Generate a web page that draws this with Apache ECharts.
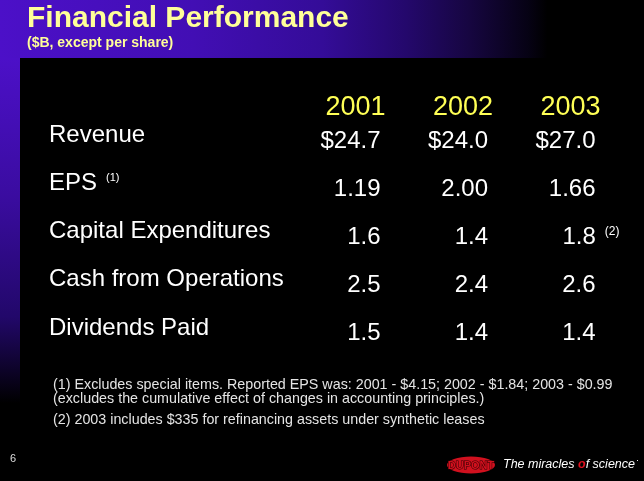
<!DOCTYPE html>
<html><head><meta charset="utf-8">
<script src="https://cdn.jsdelivr.net/npm/echarts@6/dist/echarts.min.js"></script>
<style>html,body{margin:0;padding:0;background:#000}#c{width:644px;height:481px}</style>
</head><body><div id="c"></div>
<script>
// ---- data ----
const years = ['2001', '2002', '2003'];
const rowLabels = ['Revenue', 'EPS', 'Capital Expenditures', 'Cash from Operations', 'Dividends Paid'];
const rowLabelNotes = ['', '(1)', '', '', ''];
const revenue = [24.7, 24.0, 27.0];
const eps = [1.19, 2.00, 1.66];
const capex = [1.6, 1.4, 1.8];
const capexNotes = ['', '', '(2)'];
const cashOps = [2.5, 2.4, 2.6];
const dividends = [1.5, 1.4, 1.4];
const titleText = 'Financial Performance';
const subtitleText = '($B, except per share)';
const footnoteLines = [
  '(1) Excludes special items. Reported EPS was: 2001 - $4.15; 2002 - $1.84; 2003 - $0.99',
  '(excludes the cumulative effect of changes in accounting principles.)',
  '(2) 2003 includes $335 for refinancing assets under synthetic leases'
];
const pageNumber = '6';

// ---- build ----
const FONT = 'Liberation Sans, Arial, Helvetica, sans-serif';
const rows = [
  { values: revenue, prefix: '$', dec: 1, notes: ['', '', ''] },
  { values: eps, prefix: '', dec: 2, notes: ['', '', ''] },
  { values: capex, prefix: '', dec: 1, notes: capexNotes },
  { values: cashOps, prefix: '', dec: 1, notes: ['', '', ''] },
  { values: dividends, prefix: '', dec: 1, notes: ['', '', ''] }
];
const cells = [];
rows.forEach((r, ri) => {
  r.values.forEach((v, ci) => {
    const main = r.prefix + v.toFixed(r.dec);
    const note = r.notes[ci];
    const item = { value: [ci, ri], txt: note ? '{v|' + main + '}{s|' + note + '}' : '{v|' + main + '}' };
    if (note) item.label = { offset: [24, 0] };
    cells.push(item);
  });
});

const chart = echarts.init(document.getElementById('c'), null, { renderer: 'canvas' });
chart.setOption({
  backgroundColor: '#000000',
  animation: false,
  grid: { left: 326.75, width: 322.5, top: 117.3, height: 240.5, outerBoundsMode: 'none', containLabel: false },
  xAxis: {
    type: 'category', data: years, position: 'top',
    axisLine: { show: false }, axisTick: { show: false }, splitLine: { show: false },
    axisLabel: {
      interval: 0, color: '#ffff55', fontSize: 27, fontFamily: FONT,
      align: 'center', verticalAlign: 'middle', margin: 10, padding: [0, 50, 0, 0]
    }
  },
  yAxis: {
    type: 'category', data: rowLabels, inverse: true,
    axisLine: { show: false }, axisTick: { show: false }, splitLine: { show: false },
    axisLabel: {
      interval: 0, align: 'left', margin: 277.75, color: '#ffffff', fontSize: 24, fontFamily: FONT,
      verticalAlign: 'middle', padding: [0, 0, 11.6, 0],
      formatter: (v, i) => rowLabelNotes[i] ? '{m|' + v + '}{s|' + rowLabelNotes[i] + '}' : '{m|' + v + '}',
      rich: {
        m: { fontSize: 24, color: '#ffffff', fontFamily: FONT },
        s: { fontSize: 11, color: '#ffffff', fontFamily: FONT, verticalAlign: 'top', padding: [1, 0, 0, 9] }
      }
    }
  },
  series: [{
    type: 'scatter', data: cells, symbolSize: 0,
    itemStyle: { color: '#000000', opacity: 1 },
    silent: true,
    emphasis: { disabled: true },
    label: {
      show: true, position: 'inside', align: 'right', verticalAlign: 'middle', opacity: 1,
      fontSize: 24, color: '#ffffff', fontFamily: FONT, textBorderWidth: 0,
      formatter: p => p.data.txt,
      rich: {
        v: { fontSize: 24, color: '#ffffff', fontFamily: FONT, textBorderWidth: 0 },
        s: { fontSize: 12, color: '#ffffff', fontFamily: FONT, verticalAlign: 'top', padding: [0, 0, 0, 9], textBorderWidth: 0 }
      }
    }
  }],
  graphic: [
    { type: 'rect', z: -10, silent: true, shape: { x: 0, y: 0, width: 644, height: 58 },
      style: { fill: new echarts.graphic.LinearGradient(0, 0, 1, 0, [
        { offset: 0, color: '#4c10c8' }, { offset: 0.3, color: '#420eb4' },
        { offset: 0.5, color: '#340c98' }, { offset: 0.63, color: '#24086c' },
        { offset: 0.73, color: '#160640' }, { offset: 0.82, color: '#060214' },
        { offset: 0.85, color: '#000000' }, { offset: 1, color: '#000000' }]) } },
    { type: 'rect', z: -10, silent: true, shape: { x: 0, y: 58, width: 20, height: 345 },
      style: { fill: new echarts.graphic.LinearGradient(0, 0, 0, 1, [
        { offset: 0, color: '#4c10c8' }, { offset: 0.4, color: '#3a0ca0' },
        { offset: 0.75, color: '#22086a' }, { offset: 1, color: '#000000' }]) } },
    { type: 'text', x: 27, y: 18.3, silent: true,
      style: { text: titleText, fill: '#ffff99', font: 'bold 30px ' + FONT, align: 'left', verticalAlign: 'middle' } },
    { type: 'text', x: 27, y: 43, silent: true,
      style: { text: subtitleText, fill: '#ffff99', font: 'bold 14px ' + FONT, align: 'left', verticalAlign: 'middle' } },
    { type: 'text', x: 53, y: 385, silent: true,
      style: { text: footnoteLines[0], fill: '#e4e4e4', font: '14.3px ' + FONT, align: 'left', verticalAlign: 'middle' } },
    { type: 'text', x: 53, y: 399.3, silent: true,
      style: { text: footnoteLines[1], fill: '#e4e4e4', font: '14.3px ' + FONT, align: 'left', verticalAlign: 'middle' } },
    { type: 'text', x: 53, y: 420.5, silent: true,
      style: { text: footnoteLines[2], fill: '#e4e4e4', font: '14.3px ' + FONT, align: 'left', verticalAlign: 'middle' } },
    { type: 'text', x: 10, y: 459, silent: true,
      style: { text: pageNumber, fill: '#dddddd', font: '11px ' + FONT, align: 'left', verticalAlign: 'middle' } },
    { type: 'ellipse', silent: true, shape: { cx: 471, cy: 465, rx: 24, ry: 8.5 },
      style: { fill: '#d0101e' } },
    { type: 'text', x: 471, y: 465.5, silent: true,
      style: { text: 'DUPONT', fill: '#d0101e', stroke: '#2a0000', lineWidth: 1, font: 'bold 11px ' + FONT, align: 'center', verticalAlign: 'middle' } },
    { type: 'text', x: 503, y: 465, silent: true,
      style: { text: 'The miracles {o|o}f science', font: 'italic 12.5px ' + FONT, fill: '#ffffff', align: 'left', verticalAlign: 'middle',
        rich: { o: { fill: '#e0101e', font: 'italic bold 12.5px ' + FONT } } } },
    { type: 'text', x: 636, y: 461, silent: true,
      style: { text: '\u00b7', font: '9px ' + FONT, fill: '#ffffff', align: 'left', verticalAlign: 'middle' } }
  ]
});
</script>
</body></html>
